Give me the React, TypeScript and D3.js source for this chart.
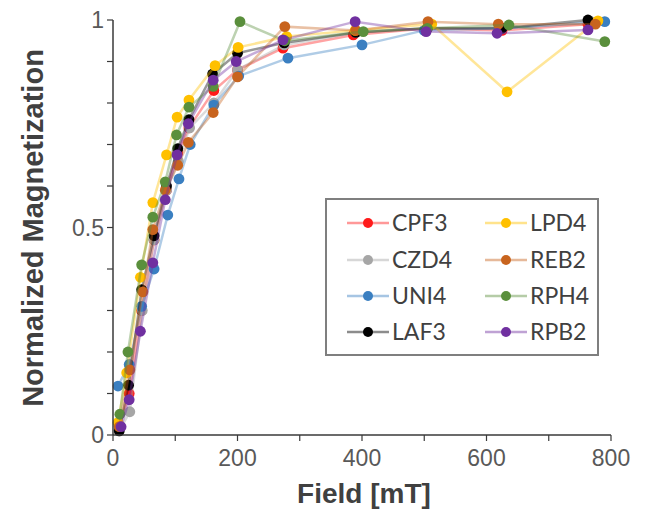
import React from 'react';
import * as d3 from 'd3';

const seriesNames = ['CPF3', 'CZD4', 'UNI4', 'LAF3', 'LPD4', 'REB2', 'RPH4', 'RPB2'];
const seriesColors = ['#ff1a1a', '#a6a6a6', '#3a7fc1', '#000000', '#ffc000', '#c8641e', '#5a8f3c', '#7030a0'];

const cpf3: [number, number][] = [[10, 0.02], [26, 0.1], [46, 0.3], [66, 0.47], [86, 0.59], [104, 0.68], [122, 0.74], [162, 0.83], [200, 0.88], [273, 0.932], [386, 0.964], [505, 0.98], [625, 0.975], [763, 0.99]];
const czd4: [number, number][] = [[10, 0.01], [27, 0.056], [47, 0.3], [66, 0.47], [86, 0.59], [105, 0.66], [123, 0.74], [162, 0.8], [200, 0.88], [275, 0.94], [390, 0.97], [505, 0.98], [625, 0.98], [770, 0.995]];
const uni4: [number, number][] = [[8, 0.118], [26, 0.17], [46, 0.31], [66, 0.4], [88, 0.53], [106, 0.617], [124, 0.7], [162, 0.795], [202, 0.865], [281, 0.908], [400, 0.94], [500, 0.975], [625, 0.98], [790, 0.996]];
const laf3: [number, number][] = [[10, 0.01], [25, 0.12], [46, 0.35], [66, 0.48], [86, 0.6], [104, 0.69], [122, 0.76], [160, 0.87], [200, 0.92], [275, 0.945], [390, 0.97], [505, 0.98], [625, 0.98], [763, 1.0]];
const lpd4: [number, number][] = [[8, 0.03], [22, 0.15], [44, 0.38], [64, 0.56], [86, 0.675], [103, 0.766], [122, 0.807], [164, 0.89], [201, 0.934], [279, 0.96], [389, 0.975], [512, 0.99], [633, 0.827], [779, 0.998]];
const reb2: [number, number][] = [[10, 0.02], [27, 0.157], [48, 0.345], [64, 0.495], [84, 0.59], [104, 0.65], [121, 0.705], [161, 0.777], [200, 0.863], [276, 0.984], [390, 0.975], [506, 0.996], [619, 0.99], [775, 0.99]];
const rph4: [number, number][] = [[11, 0.05], [24, 0.2], [46, 0.41], [64, 0.525], [84, 0.61], [102, 0.723], [122, 0.79], [161, 0.84], [204, 0.996], [276, 0.95], [402, 0.972], [505, 0.98], [636, 0.988], [790, 0.948]];
const rpb2: [number, number][] = [[13, 0.02], [26, 0.085], [44, 0.25], [64, 0.415], [84, 0.567], [103, 0.675], [121, 0.75], [161, 0.855], [198, 0.9], [273, 0.952], [389, 0.996], [503, 0.972], [617, 0.968], [763, 0.976]];

const seriesData = [cpf3, czd4, uni4, laf3, lpd4, reb2, rph4, rpb2];

const xTickLabels = [0, 200, 400, 600, 800];
const yTickLabels = [0, 0.5, 1];

export default function App() {
  const W = 651, H = 516;
  const x = d3.scaleLinear().domain([0, 800]).range([113, 611]);
  const y = d3.scaleLinear().domain([0, 1]).range([435, 20]);
  const line = d3.line<[number, number]>().x(d => x(d[0])).y(d => y(d[1]));
  const xMinor = d3.range(0, 801, 100);
  const yMinor = d3.range(0, 1.0001, 0.1);
  const axisColor = '#3a3a3a';
  const tickFont = '"Liberation Sans", Arial, sans-serif';

  const legendX = 326, legendY = 199, legendW = 272, legendH = 156;
  const rowY = [223, 260, 296, 332];
  const colX = [347, 485];

  return (
    <svg width={W} height={H} style={{ position: 'absolute', left: 0, top: 0, background: '#fff' }}>
      {seriesData.map((s, i) => (
        <g key={seriesNames[i]}>
          <path d={line(s) || ''} fill="none" stroke={seriesColors[i]} strokeOpacity={0.4} strokeWidth={2.5} />
          {s.map((d, j) => (
            <circle key={j} cx={x(d[0])} cy={y(d[1])} r={5.4} fill={seriesColors[i]} />
          ))}
        </g>
      ))}

      <line x1={113} x2={113} y1={y(1)} y2={y(0)} stroke={axisColor} strokeWidth={1.5} />
      <line x1={x(0)} x2={x(800)} y1={435} y2={435} stroke={axisColor} strokeWidth={1.5} />
      {yMinor.map((v, i) => (
        <line key={'ym' + i} x1={107} x2={113} y1={y(v)} y2={y(v)} stroke={axisColor} strokeWidth={1.2} />
      ))}
      {xMinor.map((v, i) => (
        <line key={'xm' + i} x1={x(v)} x2={x(v)} y1={435} y2={441} stroke={axisColor} strokeWidth={1.2} />
      ))}
      {yTickLabels.map(v => (
        <text key={'yl' + v} x={104} y={y(v)} dy="0.36em" textAnchor="end" fontFamily={tickFont} fontSize={23} fill="#595959">{String(v)}</text>
      ))}
      {xTickLabels.map(v => (
        <text key={'xl' + v} x={x(v)} y={466} textAnchor="middle" fontFamily={tickFont} fontSize={23} fill="#595959">{String(v)}</text>
      ))}
      <text x={364} y={503} textAnchor="middle" fontFamily={tickFont} fontWeight="bold" fontSize={28} fill="#404040">Field [mT]</text>
      <text transform={`translate(43,228) rotate(-90)`} textAnchor="middle" fontFamily={tickFont} fontWeight="bold" fontSize={29} fill="#404040">Normalized Magnetization</text>

      <rect x={legendX} y={legendY} width={legendW} height={legendH} fill="#fff" stroke="#7f7f7f" strokeWidth={2} />
      {seriesNames.map((name, i) => {
        const col = Math.floor(i / 4);
        const row = i % 4;
        const lx = colX[col];
        const ly = rowY[row];
        return (
          <g key={'lg' + name}>
            <line x1={lx} x2={lx + 42} y1={ly} y2={ly} stroke={seriesColors[i]} strokeOpacity={0.45} strokeWidth={2.5} />
            <circle cx={lx + 21} cy={ly} r={5} fill={seriesColors[i]} />
            <text x={lx + 45} y={ly} dy="0.36em" fontFamily="Lato, sans-serif" fontSize={23} fill="#404040">{name}</text>
          </g>
        );
      })}
    </svg>
  );
}
